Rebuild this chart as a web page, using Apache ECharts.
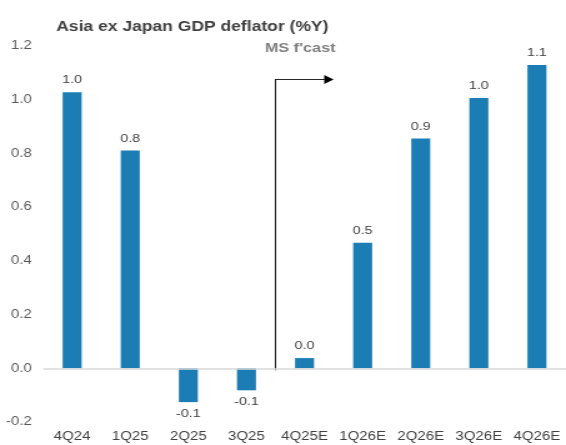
<!DOCTYPE html>
<html><head><meta charset="utf-8">
<script src="https://cdn.jsdelivr.net/npm/echarts@6/dist/echarts.min.js"></script>
<style>html,body{margin:0;padding:0;background:#fff;overflow:hidden}
#c{width:453px;height:445px;transform:scaleX(1.2494);transform-origin:0 0}</style>
</head><body><div id="c"></div>
<script>
const categories = ['4Q24','1Q25','2Q25','3Q25','4Q25E','1Q26E','2Q26E','3Q26E','4Q26E'];
const values = [1.028, 0.811, -0.126, -0.082, 0.038, 0.467, 0.856, 1.006, 1.129];
const yTicks = {min: -0.2, max: 1.2, interval: 0.2};
const titleText = 'Asia ex Japan GDP deflator (%Y)';
const forecastLabel = "MS f'cast";
const forecastStartIndex = 4;

const font = 'Liberation Sans, Arial, sans-serif';
const chart = echarts.init(document.getElementById('c'));
chart.setOption({
  animation: false,
  title: {text: titleText, left: 40, top: 15, textStyle: {fontFamily: font, fontSize: 14, fontWeight: 'bold', color: '#404040'}},
  grid: {left: 34.5, right: -8, top: 46, bottom: 23, containLabel: false},
  xAxis: {type: 'category', data: categories,
    axisLine: {show: false}, axisTick: {show: false},
    axisLabel: {fontFamily: font, fontSize: 12, color: '#404040', margin: 9, interval: 0}},
  yAxis: {type: 'value', min: yTicks.min, max: yTicks.max, interval: yTicks.interval,
    splitLine: {show: false}, axisLine: {show: false}, axisTick: {show: false},
    axisLabel: {fontFamily: font, fontSize: 12, color: '#595959', margin: 9, formatter: v => v.toFixed(1)}},
  series: [{type: 'bar', barWidth: 15.2,
    data: values.map(v => v < 0 ? {value: v, label: {position: 'bottom'}} : v),
    itemStyle: {color: '#1b7db4'},
    label: {show: true, fontFamily: font, fontSize: 11.5, color: '#404040', distance: 6,
      position: 'top', formatter: p => p.value.toFixed(1)},
    markLine: {silent: true, symbol: 'none', label: {show: false},
      lineStyle: {color: '#d9d9d9', width: 1.5, type: 'solid'},
      data: [{yAxis: 0}]}
  }]
});

function drawArrow() {
  const p3 = chart.convertToPixel({xAxisIndex: 0, yAxisIndex: 0}, [forecastStartIndex - 1, 0]);
  const p4 = chart.convertToPixel({xAxisIndex: 0, yAxisIndex: 0}, [forecastStartIndex, 0]);
  const xb = (p3[0] + p4[0]) / 2;
  const yTop = chart.convertToPixel({yAxisIndex: 0}, 1.075);
  const yBot = p3[1] + 2;
  const xEnd = xb + 46.5;
  chart.setOption({graphic: [
    {type: 'polyline', shape: {points: [[xb, yBot], [xb, yTop], [xEnd - 7, yTop]]},
      style: {stroke: '#262626', lineWidth: 1.1, fill: null}},
    {type: 'polygon', shape: {points: [[xEnd - 7.5, yTop - 4.5], [xEnd, yTop], [xEnd - 7.5, yTop + 4.5]]},
      style: {fill: '#000'}},
    {type: 'text', left: xb - 8.5, top: yTop - 38,
      style: {text: forecastLabel, font: 'bold 13px ' + font, fill: '#7f7f7f'}}
  ]});
}
drawArrow();
</script></body></html>
